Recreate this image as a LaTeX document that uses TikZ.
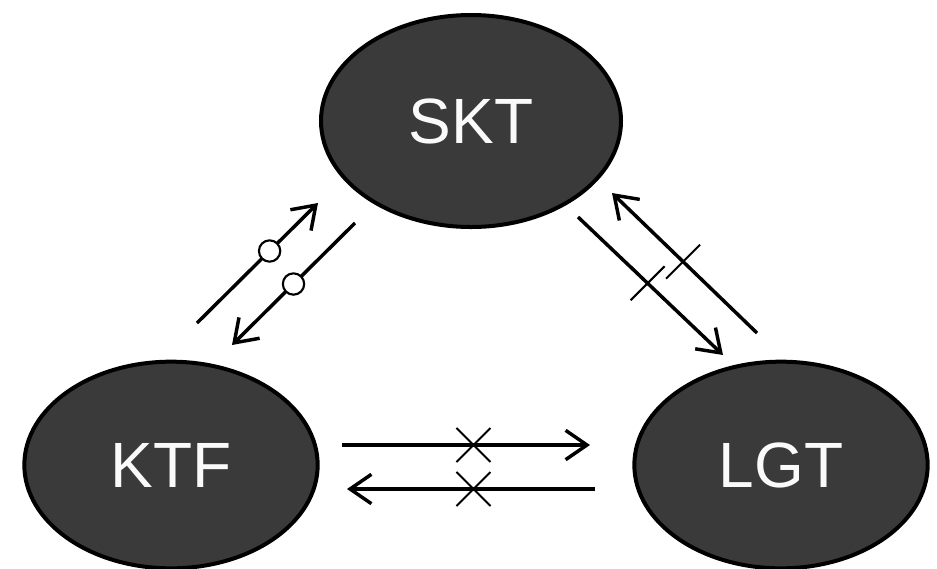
\documentclass[tikz,border=0pt]{standalone}
\usepackage{fontspec}
\setsansfont{Liberation Sans}
\usetikzlibrary{shapes.geometric, shapes.misc, arrows.meta, positioning}
\definecolor{cCarrier}{RGB}{58, 58, 58}
\definecolor{tLight}{RGB}{250, 250, 250}

\begin{document}
\begin{tikzpicture}[
    x=0.75pt, y=-0.75pt,
    font=\sffamily,
    carrier/.style={
        ellipse,
        draw=black,
        line width=3pt,
        fill=cCarrier,
        text=tLight,
        minimum width=220pt,
        minimum height=155pt,
        font=\sffamily\fontsize{48}{48}\selectfont
    },
    arrow/.style={-{Straight Barb[length=16pt, width=22pt]}, line width=2.6pt},
    ring/.style={circle, draw, fill=white, line width=1.6pt, minimum size=16pt, inner sep=0pt},
    block/.style={cross out, draw, line width=1.5pt, minimum size=24pt, inner sep=0pt}
]
\useasboundingbox (0,0) rectangle (937,568);

% Operators
\node[carrier, minimum width=225pt, minimum height=159pt] (skt) at (471, 121) {SKT};
\node[carrier] (ktf) at (171, 465) {KTF};
\node[carrier] (lgt) at (781, 465) {LGT};

% SKT -- KTF: open
\coordinate (sk1) at (197, 323);
\coordinate (sk2) at (318, 203);
\coordinate (sk3) at (355, 223);
\coordinate (sk4) at (232, 345);
\draw[arrow] (sk1) -- node[pos=0.6, ring] (o1) {} (sk2);
\draw[arrow] (sk3) -- node[pos=0.5, ring] (o2) {} (sk4);

% SKT -- LGT: blocked
\coordinate (sl1) at (578, 217);
\coordinate (sl2) at (723, 355);
\coordinate (sl3) at (757, 333);
\coordinate (sl4) at (612, 193);
\draw[arrow] (sl1) -- node[pos=0.48, block] (x1) {} (sl2);
\draw[arrow] (sl3) -- node[pos=0.51, block] (x2) {} (sl4);

% KTF -- LGT: blocked
\coordinate (kl1) at (342, 445);
\coordinate (kl2) at (590, 445);
\coordinate (kl3) at (595, 489);
\coordinate (kl4) at (347, 489);
\draw[arrow] (kl1) -- node[pos=0.53, block] (x3) {} (kl2);
\draw[arrow] (kl3) -- node[pos=0.49, block] (x4) {} (kl4);

\end{tikzpicture}
\end{document}
